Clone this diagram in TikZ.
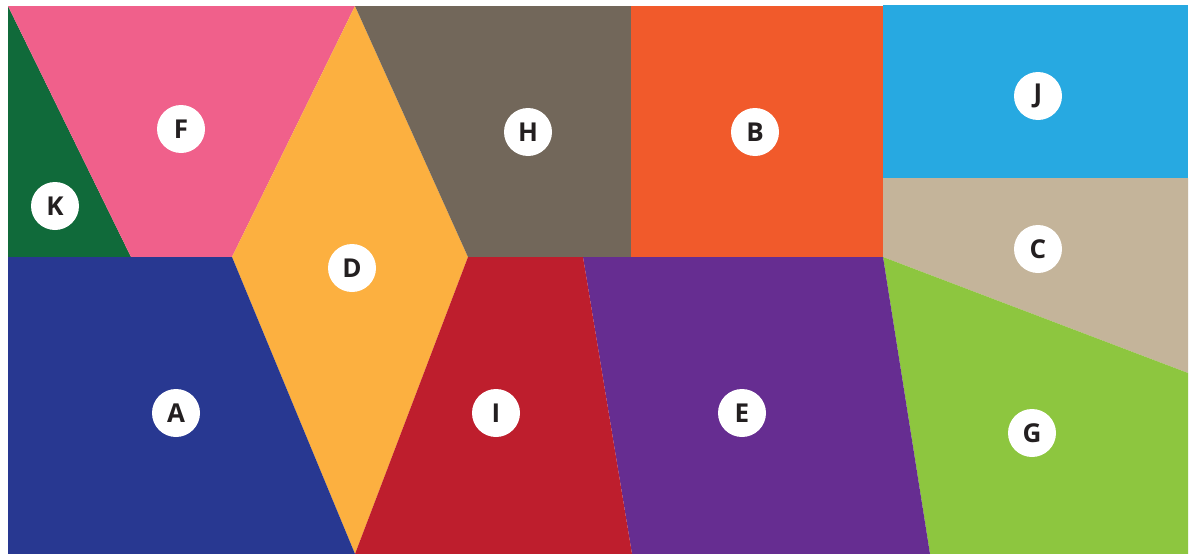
\documentclass[tikz,border=0pt]{standalone}
\usepackage{fontspec}
\setmainfont{Open Sans}
\definecolor{cK}{HTML}{106A3A}
\definecolor{cF}{HTML}{F0608B}
\definecolor{cD}{HTML}{FCB040}
\definecolor{cH}{HTML}{72675A}
\definecolor{cB}{HTML}{F15A2B}
\definecolor{cJ}{HTML}{27A9E1}
\definecolor{cC}{HTML}{C4B49A}
\definecolor{cG}{HTML}{8DC63F}
\definecolor{cE}{HTML}{662D91}
\definecolor{cI}{HTML}{BE1E2D}
\definecolor{cA}{HTML}{283891}
\definecolor{txt}{HTML}{231F20}
\tikzset{
  lbl/.style={circle, fill=white, minimum size=48pt, inner sep=0pt, text=txt, font=\fontsize{26}{26}\selectfont\bfseries}
}
\begin{document}
\begin{tikzpicture}[x=1pt,y=-1pt]
\useasboundingbox (0,0) rectangle (1191,554);
\fill[white] (0,0) rectangle (1191,554);
% pieces
\fill[cK] (8,6) -- (131,257) -- (8,257) -- cycle;
\fill[cF] (8,6) -- (355,6) -- (232,257) -- (131,257) -- cycle;
\fill[cD] (355,6) -- (468,257) -- (355,554) -- (232,257) -- cycle;
\fill[cH] (355,6) -- (631,6) -- (631,257) -- (468,257) -- cycle;
\fill[cB] (631,6) -- (883,6) -- (883,257) -- (631,257) -- cycle;
\fill[cJ] (883,5) -- (1188,5) -- (1188,178) -- (883,178) -- cycle;
\fill[cC] (883,178) -- (1188,178) -- (1188,373) -- (883,257) -- cycle;
\fill[cG] (883,257) -- (1188,373) -- (1188,554) -- (930,554) -- cycle;
\fill[cE] (583,257) -- (883,257) -- (930,554) -- (632,554) -- cycle;
\fill[cI] (468,257) -- (583,257) -- (632,554) -- (355,554) -- cycle;
\fill[cA] (8,257) -- (232,257) -- (355,554) -- (8,554) -- cycle;
% labels
\node[lbl] (F) at (181,129) {F};
\node[lbl] (K) at (55,206) {K};
\node[lbl] (H) at (528,132) {H};
\node[lbl] (B) at (755,132) {B};
\node[lbl] (J) at (1038,96) {J};
\node[lbl] (C) at (1038,249) {C};
\node[lbl] (D) at (352,268) {D};
\node[lbl] (A) at (176,413) {A};
\node[lbl] (I) at (496,413) {I};
\node[lbl] (E) at (742,413) {E};
\node[lbl] (G) at (1032,433) {G};
\end{tikzpicture}
\end{document}
